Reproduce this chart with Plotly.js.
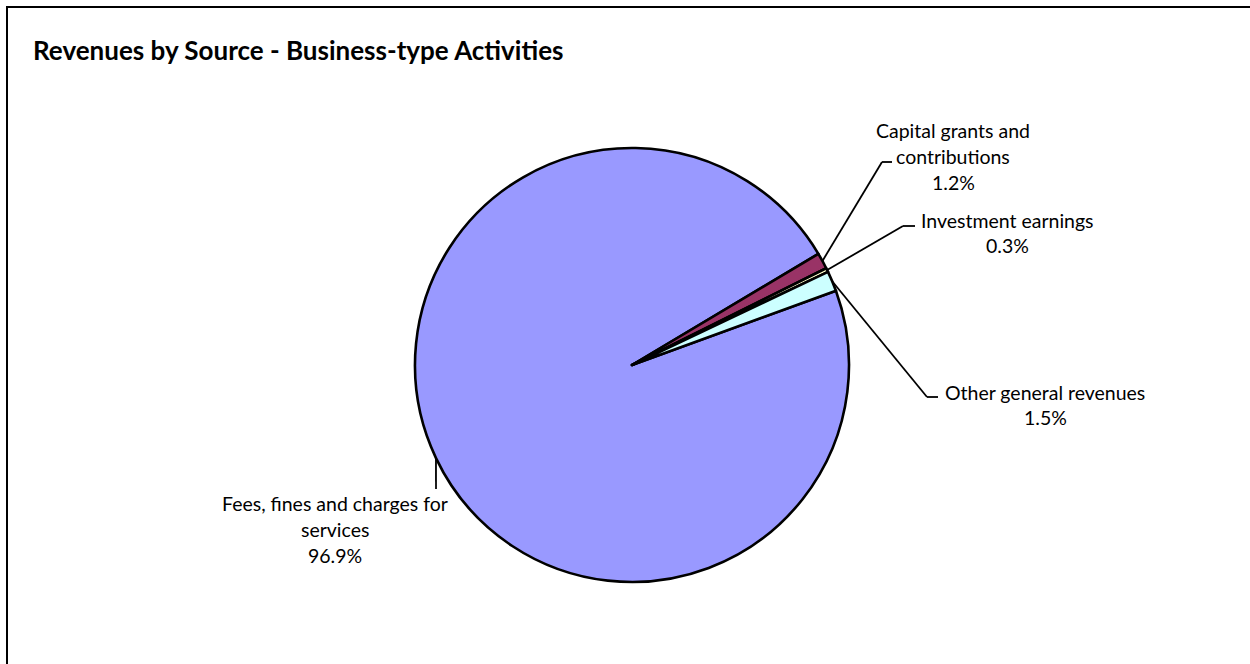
<!DOCTYPE html>
<html>
<head>
<meta charset="utf-8">
<script src="https://cdn.plot.ly/plotly-3.0.1.min.js"></script>
<style>html,body{margin:0;padding:0;background:#fff;}#chart{width:1250px;height:664px;}</style>
</head>
<body>
<div id="chart"></div>
<script>
// ---- data ----
const categories = ['Fees, fines and charges for services', 'Capital grants and contributions', 'Investment earnings', 'Other general revenues'];
const labelLines = [['Fees, fines and charges for', 'services'], ['Capital grants and', 'contributions'], ['Investment earnings'], ['Other general revenues']];
const percentValues = [96.9, 1.2, 0.3, 1.5];
const sliceColors = ['#9999FF', '#993366', '#FFFFCC', '#CCFFFF'];
const chartTitle = 'Revenues by Source - Business-type Activities';

// ---- layout constants (pixels) ----
const W = 1250, H = 664;
const CX = 632, CY = 365, R = 217;
const ROTATION = 70; // degrees clockwise from 12 o'clock where first slice starts
const FONT = 'Lato, "Open Sans", sans-serif';

function fitSize(text, weight, target) {
  const c = document.createElement('canvas').getContext('2d');
  c.font = weight + ' 20px Lato';
  const w = c.measureText(text).width;
  return 20 * target / w;
}
const titleSize = fitSize(chartTitle, 'bold', 532);
const labelSize = fitSize('Fees, fines and charges for', 'normal', 226);

// label block placement: [centerX, firstLineY], elbow points
const labelPos = [
  {x: 335, y: 503, elbow: null, end: [436, 489]},
  {x: 953, y: 130, elbow: [882, 162], end: [892, 162]},
  {x: 1007, y: 220, elbow: [903, 226], end: [915, 226]},
  {x: 1045, y: 392, elbow: [927, 397], end: [938, 397]}
];
const LINE_GAP = 26;

const px = x => x / W;
const py = y => 1 - y / H;

// anchor points on pie edge computed from values
const total = percentValues.reduce((a, b) => a + b, 0);
let acc = 0;
const anchors = percentValues.map(v => {
  const mid = ROTATION + (acc + v / 2) / total * 360;
  acc += v;
  const a = mid * Math.PI / 180;
  return [CX + R * Math.sin(a), CY - R * Math.cos(a)];
});

const annotations = [];
const shapes = [];
labelLines.forEach((lines, i) => {
  const all = lines.concat([percentValues[i].toFixed(1) + '%']);
  all.forEach((t, j) => {
    annotations.push({
      xref: 'paper', yref: 'paper', x: px(labelPos[i].x), y: py(labelPos[i].y + j * LINE_GAP),
      xanchor: 'center', yanchor: 'middle', text: t, showarrow: false,
      font: {family: FONT, size: labelSize, color: '#000'}
    });
  });
  const p = labelPos[i];
  const a = anchors[i];
  if (p.elbow) {
    shapes.push({type: 'line', xref: 'paper', yref: 'paper', x0: px(a[0]), y0: py(a[1]), x1: px(p.elbow[0]), y1: py(p.elbow[1]), line: {color: '#000', width: 1.8}});
    shapes.push({type: 'line', xref: 'paper', yref: 'paper', x0: px(p.elbow[0]), y0: py(p.elbow[1]), x1: px(p.end[0]), y1: py(p.end[1]), line: {color: '#000', width: 1.8}});
  } else {
    shapes.push({type: 'line', xref: 'paper', yref: 'paper', x0: px(a[0]), y0: py(a[1]), x1: px(p.end[0]), y1: py(p.end[1]), line: {color: '#000', width: 1.8}});
  }
});

// outer chart border
shapes.push({type: 'rect', xref: 'paper', yref: 'paper', x0: px(7), y0: -0.05, x1: 1.05, y1: py(7), line: {color: '#000', width: 2}, layer: 'below'});

const trace = {
  type: 'pie',
  labels: categories,
  values: percentValues,
  sort: false,
  direction: 'clockwise',
  rotation: ROTATION,
  textinfo: 'none',
  hoverinfo: 'label+percent',
  marker: {colors: sliceColors, line: {color: '#000', width: 2.6}},
  domain: {x: [px(CX - R), px(CX + R)], y: [py(CY + R), py(CY - R)]},
  showlegend: false
};

const layout = {
  width: W, height: H,
  margin: {l: 0, r: 0, t: 0, b: 0},
  paper_bgcolor: '#fff',
  showlegend: false,
  title: {text: '<b>' + chartTitle + '</b>', x: px(33), xanchor: 'left', xref: 'paper', y: py(51), yanchor: 'middle', yref: 'paper',
          font: {family: FONT, size: titleSize, color: '#000'}},
  annotations: annotations,
  shapes: shapes
};

Plotly.newPlot('chart', [trace], layout, {displayModeBar: false, staticPlot: true});
</script>
</body>
</html>
